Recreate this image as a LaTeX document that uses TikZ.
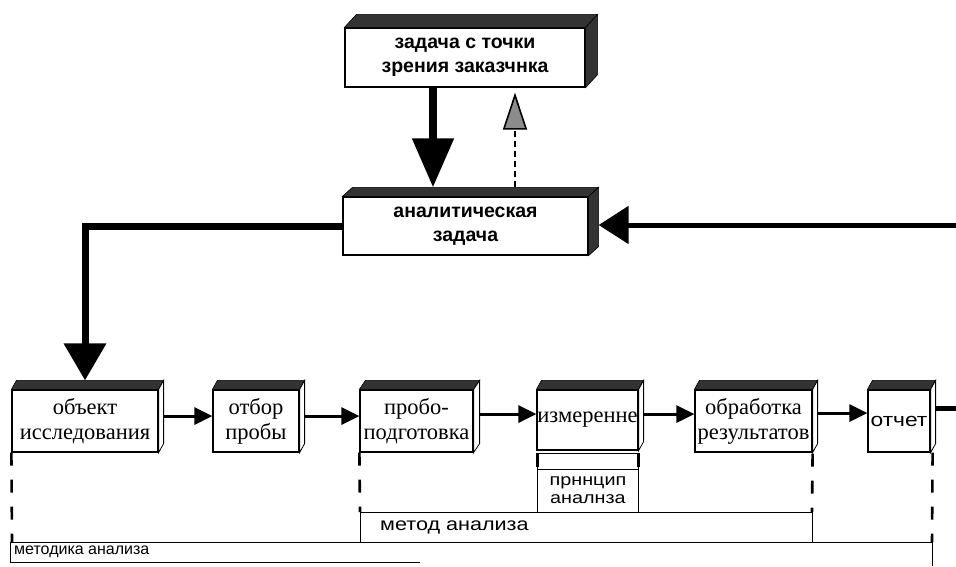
\documentclass[tikz,border=0pt]{standalone}
\usepackage{fontspec}
\setmainfont{Liberation Serif}
\newfontfamily\sansf{Liberation Sans}
\newfontfamily\sansw[FakeStretch=1.2]{Liberation Sans}
\usetikzlibrary{arrows.meta,calc}
\begin{document}
\begin{tikzpicture}[x=1pt,y=-1pt,
  bigbox/.style={draw,line width=1.2pt,fill=white,align=center,inner sep=0pt,
    font=\sansf\bfseries\fontsize{19.5}{23.5}\selectfont},
  smallbox/.style={draw,line width=1.2pt,fill=white,align=center,inner sep=0pt,
    minimum height=62pt,font=\fontsize{22.5}{25}\selectfont},
  face/.style={fill=black!80,draw=black,line width=0.6pt},
  sideface/.style={fill=white,draw=black,line width=0.8pt},
  flow/.style={line width=3pt,-{Triangle[length=18pt,width=17pt]}},
  vdash/.style={line width=2.6pt,dash pattern=on 13pt off 14pt},
  frame/.style={line width=1pt},
  lbl/.style={font=\sansf\fontsize{16}{18}\selectfont,inner sep=0pt}
]
\useasboundingbox (0,0) rectangle (956,566);

% top boxes
\node[bigbox,minimum width=240pt,minimum height=59pt] (zad) at (465,57.5) {задача с точки\\зрения заказчнка};
\node[bigbox,minimum width=245pt,minimum height=58pt] (an) at (465.5,226) {аналитическая\\задача};

% bottom row
\node[smallbox,minimum width=146pt] (obj) at (85,421) {объект\\исследования};
\node[smallbox,minimum width=86pt] (otb) at (256,421) {отбор\\пробы};
\node[smallbox,minimum width=113pt] (prob) at (416.5,421) {пробо-\\подготовка};
\node[smallbox,minimum width=101pt,minimum height=60pt] (izm) at (587.5,420) {измеренне};
\node[smallbox,minimum width=117pt] (obr) at (753.5,421) {обработка\\результатов};
\node[smallbox,minimum width=62pt,font=\sansw\fontsize{19}{22}\selectfont] (otch) at (899,421) {отчет};

% 3D faces, top boxes
\foreach \n/\dx/\dy in {zad/12/-13,an/10/-9}{
  \draw[face] (\n.north west) -- ++(\dx,\dy) -- ($(\n.north east)+(\dx,\dy)$) -- (\n.north east) -- cycle;
  \draw[face] (\n.north east) -- ++(\dx,\dy) -- ($(\n.south east)+(\dx,\dy)$) -- (\n.south east) -- cycle;
}
% 3D faces, bottom row
\foreach \n/\dx/\dy in {obj/5/-9,otb/5/-9,prob/6/-9,izm/5/-9,obr/5/-9,otch/5/-9}{
  \draw[face] (\n.north west) -- ++(\dx,\dy) -- ($(\n.north east)+(\dx,\dy)$) -- (\n.north east) -- cycle;
  \draw[sideface] (\n.north east) -- ++(\dx,\dy) -- ($(\n.south east)+(\dx,\dy)$) -- (\n.south east) -- cycle;
}

% connectors between top boxes
\coordinate (xdown) at (433,0);
\coordinate (xup) at (515,0);
\draw[line width=8pt,-{Triangle[length=49pt,width=40pt]}] (xdown |- zad.south) -- ($(xdown |- an.north)+(0,-9)$);
\draw[line width=1.6pt,dash pattern=on 6pt off 4pt,-{Triangle[length=37pt,width=24pt,fill=black!45]}] ($(xup |- an.north)+(0,-9)$) -- ($(xup |- zad.south)+(0,5)$);
\draw[line width=7pt,line join=miter,-{Triangle[length=37pt,width=41pt]}] (an.west) -| ($(obj.north)+(0,-9)$);
\coordinate (rin) at (956,225);
\draw[line width=5pt,-{Triangle[length=30pt,width=37pt]}] (rin) -- ($(an.east)+(10,-1)$);

% bottom row flow
\draw[flow] ($(obj.east)+(5,-5)$) -- ($(otb.west)+(0,-5)$);
\draw[flow] ($(otb.east)+(5,-5)$) -- ($(prob.west)+(0,-5)$);
\draw[flow] ($(prob.east)+(6,-7)$) -- ($(izm.west |- prob.east)+(0,-7)$);
\draw[flow] ($(izm.east |- obr.east)+(5,-7)$) -- ($(obr.west)+(0,-7)$);
\draw[flow] ($(obr.east)+(5,-8)$) -- ($(otch.west)+(0,-8)$);
\coordinate (rout) at (956,408);
\draw[line width=5pt] ($(otch.east)+(5,-13)$) -- (rout);

% principle bar and boxes
\draw[frame] (537,453) rectangle (638,469);
\draw[line width=3pt] (537,453) -- (537,467) (638,453) -- (638,467);
\draw[frame] (537,469) -- (537,512) (638,469) -- (638,512);
\node[lbl,align=center,font=\sansw\fontsize{16.5}{18}\selectfont] (princ) at (588,490) {прннцип\\аналнза};

% method frame
\draw[frame] (360,542) -- (360,512) -- (812,512) -- (812,542);
\node[lbl,anchor=west,font=\sansw\fontsize{18}{20}\selectfont] (metod) at (380,527) {метод анализа};
% methodology frame
\draw[frame] (10,562) -- (10,542) -- (932,542) -- (932,566);
\draw[frame] (10,562) -- (420,562);
\node[lbl,anchor=west] (metodika) at (14,552) {методика анализа};

% dashed verticals
\draw[vdash] (obj.south west) -- (12,542);
\draw[vdash] (prob.south west) -- (360,512);
\draw[vdash] ($(obr.south east)+(0,1)$) -- (812,512);
\draw[vdash] ($(otch.south east)+(2,0)$) -- (932,542);
\end{tikzpicture}
\end{document}
